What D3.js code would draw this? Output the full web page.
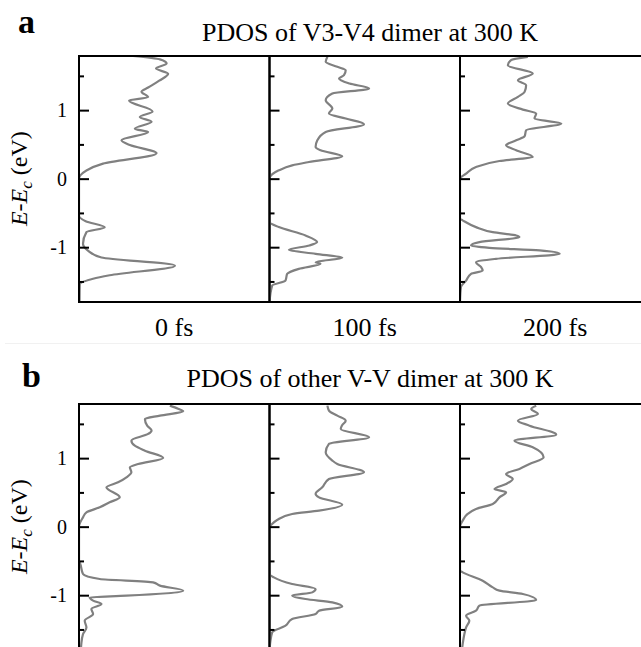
<!DOCTYPE html>
<html>
  <head>
    <meta charset="utf-8" />
    <title>PDOS of V-V dimers at 300 K</title>
    <script src="https://d3js.org/d3.v7.min.js"></script>
    <style>
      body { margin: 0; background: #fff; }
      svg { display: block; }
      text { font-family: "Liberation Serif", "Times New Roman", serif; fill: #000; }
    </style>
  </head>
  <body>
    <div id="figure"></div>

    <script type="text/javascript">
      // time snapshots and panel titles
      var timeLabels = ["0 fs", "100 fs", "200 fs"];
      var panelLetters = ["a", "b"];
      var panelTitles = ["PDOS of V3-V4 dimer at 300 K", "PDOS of other V-V dimer at 300 K"];
      var majorTicks = [-1, 0, 1];
      var minorTicks = [-1.5, -0.5, 0.5, 1.5];
      var energyRange = [-1.8, 1.79];
      var dosRange = [0, 10];

      // [E - Ec (eV), PDOS (arb.)]
      var pdosA0 = [[1.79,2.84],[1.74,4.25],[1.68,4.6],[1.61,4.04],[1.53,4.68],[1.43,4.21],[1.33,3.63],[1.27,3.28],[1.19,3.63],[1.14,2.63],[0.98,3.86],[0.90,3.19],[0.83,3.81],[0.73,2.93],[0.68,3.63],[0.56,2.23],[0.49,2.67],[0.37,4.07],[0.22,1.26],[0.12,0.39],[0,0],[-0.54,0],[-0.62,0.35],[-0.71,1.35],[-0.78,0.39],[-0.95,0.21],[-1.05,0.47],[-1.15,1.18],[-1.27,5.04],[-1.41,1.61],[-1.46,0.74],[-1.54,0.04],[-1.8,0.03]];
      var pdosA100 = [[1.78,3.04],[1.705,2.95],[1.632,3.56],[1.583,4.0],[1.51,3.91],[1.462,3.65],[1.388,4.2],[1.315,5.23],[1.242,3.3],[1.145,2.95],[1.023,3.3],[0.95,3.12],[0.877,4.0],[0.794,4.96],[0.682,2.95],[0.56,2.51],[0.462,2.42],[0.414,2.68],[0.326,3.82],[0.243,2.07],[0.194,1.19],[0.121,0.49],[0,0],[-0.634,0],[-0.707,0.49],[-0.829,1.89],[-0.926,2.5],[-0.975,2.1],[-1.038,1.02],[-1.097,2.42],[-1.155,3.82],[-1.219,2.42],[-1.243,2.68],[-1.316,1.54],[-1.389,0.93],[-1.487,0.84],[-1.56,0.14],[-1.8,0]];
      var pdosA200 = [[1.778,3.56],[1.73,2.68],[1.656,2.51],[1.535,3.82],[1.437,3.04],[1.364,3.47],[1.267,3.39],[1.193,3.04],[1.096,2.51],[1.008,3.3],[0.95,4.0],[0.877,3.91],[0.804,5.32],[0.706,3.47],[0.618,3.39],[0.56,2.95],[0.487,2.42],[0.414,2.95],[0.316,3.82],[0.258,2.07],[0.17,0.84],[0.073,0.32],[0,0],[-0.585,0],[-0.609,0.14],[-0.707,0.84],[-0.78,1.72],[-0.829,2.95],[-0.853,3.12],[-0.926,1.02],[-0.975,0.58],[-1.009,1.54],[-1.048,4.18],[-1.097,5.23],[-1.17,1.89],[-1.219,0.84],[-1.292,1.11],[-1.341,1.19],[-1.389,0.58],[-1.487,0.32],[-1.584,0.05],[-1.8,0]];
      var pdosB0 = [[1.766,4.77],[1.72,5.2],[1.684,5.47],[1.62,4.25],[1.572,3.46],[1.474,3.58],[1.401,3.81],[1.353,3.63],[1.255,2.75],[1.182,2.93],[1.109,3.46],[1.002,4.42],[0.915,3.11],[0.866,2.67],[0.793,2.75],[0.72,2.49],[0.647,2.05],[0.574,1.44],[0.428,2.14],[0.355,1.61],[0.282,1.09],[0.209,0.39],[0.136,0.21],[0,0],[-0.496,0],[-0.545,0.07],[-0.691,0.21],[-0.764,1.09],[-0.813,3.89],[-0.861,4.25],[-0.934,5.47],[-1.007,2.49],[-1.032,0.56],[-1.08,0.74],[-1.129,1.18],[-1.202,0.65],[-1.275,0.74],[-1.372,0.3],[-1.47,0.39],[-1.567,0.21],[-1.713,0.12],[-1.8,0.1]];
      var pdosB100 = [[1.766,3.04],[1.693,3.12],[1.62,3.56],[1.547,4.0],[1.474,3.8],[1.426,3.74],[1.304,5.23],[1.207,3.12],[1.085,2.95],[0.964,3.3],[0.915,3.56],[0.793,4.96],[0.696,3.12],[0.574,2.77],[0.477,2.42],[0.428,2.6],[0.321,3.82],[0.234,2.6],[0.185,1.19],[0.097,0.4],[0.015,0.05],[0,0],[-0.691,0],[-0.74,0.23],[-0.837,1.19],[-0.91,2.42],[-0.959,2.25],[-1.007,1.19],[-1.056,1.89],[-1.105,3.3],[-1.168,3.82],[-1.226,2.6],[-1.275,2.42],[-1.348,1.19],[-1.445,0.84],[-1.543,0.14],[-1.8,0]];
      var pdosB200 = [[1.766,4.0],[1.718,3.74],[1.645,4.09],[1.547,3.04],[1.474,3.65],[1.343,5.05],[1.255,2.86],[1.158,3.82],[1.012,4.39],[0.915,3.65],[0.842,3.12],[0.769,2.42],[0.696,2.77],[0.623,2.42],[0.55,1.81],[0.501,2.42],[0.428,2.07],[0.331,1.72],[0.258,0.84],[0.185,0.4],[0.088,0.14],[0,0],[-0.642,0],[-0.667,0.14],[-0.788,1.19],[-0.886,1.72],[-0.934,2.07],[-0.983,3.3],[-1.071,4.0],[-1.153,1.02],[-1.226,0.84],[-1.299,0.32],[-1.372,0.49],[-1.47,0.32],[-1.567,0.23],[-1.713,0.14],[-1.8,0.1]];

      var panelData = [
        [pdosA0, pdosA100, pdosA200],
        [pdosB0, pdosB100, pdosB200]
      ];

      var width = 641;
      var height = 647;
      var left = 79;
      var subW = 190.5;
      var panelTop = [56, 404];
      var panelH = 246;

      var svg = d3
        .select("#figure")
        .append("svg")
        .attr("width", width)
        .attr("height", height);

      var x = d3.scaleLinear().domain(dosRange).range([0, subW]);

      // faint seam between the two parts of the figure
      svg
        .append("line")
        .attr("x1", 5)
        .attr("x2", width)
        .attr("y1", 343.5)
        .attr("y2", 343.5)
        .attr("stroke", "#f1f1f1")
        .attr("stroke-width", 1);

      var defs = svg.append("defs");

      panelData.forEach(function (curves, p) {
        var top = panelTop[p];
        var y = d3.scaleLinear().domain(energyRange).range([top + panelH, top]);
        var g = svg.append("g");

        // panel letter and title
        g.append("text")
          .attr("x", p === 0 ? 18 : 22)
          .attr("y", p === 0 ? 33 : 387)
          .attr("font-size", 34)
          .attr("font-weight", "bold")
          .text(panelLetters[p]);

        g.append("text")
          .attr("x", 370)
          .attr("y", p === 0 ? 41 : 387)
          .attr("text-anchor", "middle")
          .attr("font-size", 26)
          .text(panelTitles[p]);

        // y label
        var ylab = g
          .append("text")
          .attr("transform", "translate(27," + y(0) + ") rotate(-90)")
          .attr("text-anchor", "middle")
          .attr("font-size", 24);
        ylab.append("tspan").attr("font-style", "italic").text("E");
        ylab.append("tspan").text("-");
        ylab.append("tspan").attr("font-style", "italic").text("E");
        ylab.append("tspan").attr("font-style", "italic").attr("font-size", 17).attr("dy", 5).text("c");
        ylab.append("tspan").attr("dy", -5).text(" (eV)");

        var line = d3
          .line()
          .x(function (d) { return x(d[1]); })
          .y(function (d) { return y(d[0]); })
          .curve(d3.curveMonotoneY);

        curves.forEach(function (data, i) {
          var x0 = left + i * subW;
          var clipId = "clip" + p + "_" + i;
          defs
            .append("clipPath")
            .attr("id", clipId)
            .append("rect")
            .attr("x", 0)
            .attr("y", top)
            .attr("width", subW)
            .attr("height", panelH);

          var sub = g.append("g").attr("transform", "translate(" + x0 + ",0)");

          sub
            .append("path")
            .datum(data)
            .attr("clip-path", "url(#" + clipId + ")")
            .attr("fill", "none")
            .attr("stroke", "#808080")
            .attr("stroke-width", 2.2)
            .attr("stroke-linejoin", "round")
            .attr("d", line);

          // minor ticks
          sub
            .append("g")
            .call(d3.axisLeft(y).tickValues(minorTicks).tickSize(-5).tickFormat(""))
            .call(function (a) { a.select(".domain").remove(); })
            .selectAll("line")
            .attr("stroke", "#000")
            .attr("stroke-width", 2);

          // major ticks, labels only on the first column
          var ax = sub
            .append("g")
            .call(
              d3
                .axisLeft(y)
                .tickValues(majorTicks)
                .tickSize(-10)
                .tickPadding(12)
                .tickFormat(function (d) { return i === 0 ? String(d) : ""; })
            );
          ax.select(".domain").remove();
          ax.selectAll("line").attr("stroke", "#000").attr("stroke-width", 2);
          ax.selectAll("text")
            .attr("font-size", 20)
            .attr("font-family", "Liberation Serif, Times New Roman, serif")
            .attr("fill", "#000");

          // frame of each column
          sub
            .append("rect")
            .attr("x", 0)
            .attr("y", top)
            .attr("width", subW)
            .attr("height", panelH)
            .attr("fill", "none")
            .attr("stroke", "#000")
            .attr("stroke-width", 2);

          if (p === 0) {
            sub
              .append("text")
              .attr("x", subW / 2)
              .attr("y", 336)
              .attr("text-anchor", "middle")
              .attr("font-size", 26)
              .text(timeLabels[i]);
          }
        });
      });
    </script>
  </body>
</html>
